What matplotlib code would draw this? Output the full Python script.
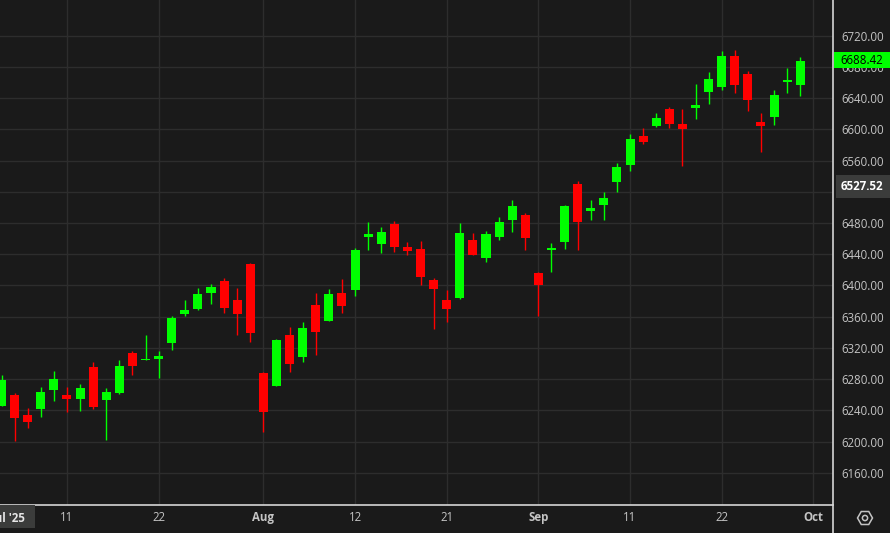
import numpy as np
import matplotlib
matplotlib.use("Agg")
import matplotlib.pyplot as plt
from matplotlib.patches import Rectangle, RegularPolygon, Circle
from matplotlib.transforms import IdentityTransform

# daily candles, 3 Jul 2025 -> 30 Sep 2025 (trading days only)
dates = ["07-03", "07-07", "07-08", "07-09", "07-10", "07-11", "07-14", "07-15", "07-16", "07-17",
         "07-18", "07-21", "07-22", "07-23", "07-24", "07-25", "07-28", "07-29", "07-30", "07-31",
         "08-01", "08-04", "08-05", "08-06", "08-07", "08-08", "08-11", "08-12", "08-13", "08-14",
         "08-15", "08-18", "08-19", "08-20", "08-21", "08-22", "08-25", "08-26", "08-27", "08-28",
         "08-29", "09-02", "09-03", "09-04", "09-05", "09-08", "09-09", "09-10", "09-11", "09-12",
         "09-15", "09-16", "09-17", "09-18", "09-19", "09-22", "09-23", "09-24", "09-25", "09-26",
         "09-29", "09-30"]
opens = [6246.0, 6259.6, 6234.4, 6241.7, 6266.0, 6254.5, 6254.5, 6295.5, 6253.2, 6262.2,
         6313.5, 6304.5, 6305.8, 6326.7, 6369.0, 6369.9, 6398.1, 6405.8, 6381.4, 6427.6,
         6287.8, 6271.5, 6336.5, 6308.3, 6375.0, 6354.5, 6390.4, 6394.2, 6462.2, 6453.2,
         6478.8, 6444.5, 6446.8, 6407.1, 6381.4, 6384.0, 6458.3, 6435.3, 6462.2, 6484.0,
         6490.4, 6400.6, 6445.5, 6455.8, 6530.1, 6499.0, 6503.2, 6551.9, 6554.5, 6591.7,
         6604.5, 6626.3, 6607.0, 6627.6, 6648.1, 6654.5, 6694.2, 6671.2, 6609.6, 6616.0,
         6662.5, 6657.1]
highs = [6285.3, 6262.2, 6243.3, 6269.9, 6290.4, 6269.9, 6273.7, 6301.9, 6268.6, 6304.5,
         6316.0, 6336.5, 6316.0, 6361.0, 6381.4, 6396.8, 6402.0, 6409.6, 6396.8, 6428.5,
         6288.5, 6331.5, 6346.8, 6353.2, 6390.4, 6395.5, 6408.3, 6448.0, 6481.4, 6475.0,
         6482.7, 6455.8, 6457.0, 6409.6, 6394.2, 6480.1, 6467.3, 6469.9, 6487.8, 6509.6,
         6493.0, 6417.0, 6454.5, 6503.5, 6534.0, 6509.6, 6520.0, 6557.0, 6594.2, 6601.9,
         6621.2, 6628.8, 6626.3, 6658.3, 6673.7, 6700.6, 6701.9, 6675.0, 6621.2, 6650.6,
         6678.8, 6692.9]
lows = [6245.0, 6201.0, 6217.7, 6231.8, 6251.9, 6238.2, 6239.1, 6241.7, 6201.9, 6261.0,
        6285.3, 6304.0, 6281.8, 6317.7, 6361.3, 6368.6, 6376.3, 6364.7, 6336.5, 6327.6,
        6212.2, 6271.0, 6289.1, 6301.9, 6310.9, 6354.0, 6364.7, 6386.5, 6445.5, 6441.7,
        6443.0, 6439.1, 6400.6, 6344.2, 6353.2, 6383.0, 6439.0, 6430.2, 6458.3, 6468.6,
        6445.5, 6360.9, 6417.3, 6446.8, 6445.5, 6484.0, 6484.0, 6520.0, 6546.8, 6581.4,
        6603.2, 6601.9, 6553.2, 6613.5, 6632.7, 6650.6, 6646.8, 6623.7, 6571.2, 6605.8,
        6646.8, 6643.0]
closes = [6279.35, 6229.98, 6225.52, 6263.26, 6280.46, 6259.75, 6268.56, 6243.76, 6263.70, 6297.36,
          6296.79, 6305.60, 6309.62, 6358.91, 6363.35, 6388.64, 6389.77, 6370.86, 6362.90, 6339.39,
          6238.01, 6329.94, 6299.19, 6345.06, 6340.00, 6389.45, 6373.45, 6445.76, 6466.58, 6468.54,
          6449.80, 6449.15, 6411.37, 6395.78, 6370.17, 6466.91, 6439.32, 6465.94, 6481.40, 6501.86,
          6460.26, 6415.54, 6448.26, 6502.08, 6481.50, 6495.15, 6512.61, 6532.04, 6587.47, 6584.29,
          6615.28, 6606.76, 6600.35, 6631.96, 6664.36, 6693.75, 6656.92, 6637.97, 6604.72, 6643.70,
          6661.21, 6688.42]
prev_close = 6227.42  # close before the first visible candle

tick_pos = [5, 12, 20, 27, 34, 41, 48, 55, 62]
tick_labels = ["11", "22", "Aug", "12", "21", "Sep", "11", "22", "Oct"]
month_labels = ["Aug", "Sep", "Oct"]
price_ticks = list(range(6160, 6721, 40))
hidden_ticks = [6520]  # sits under the marker tag
last_price = 6688.42
marker_price = 6527.52

BG = "#1a1a1a"
GRID = "#2d2d2d"
AXLINE = "#d6d6d6"
TXT = "#c4c4c4"
UP = "#00ff00"
DOWN = "#ff0000"

W, H = 890, 533
plt.rcParams["font.family"] = ["Open Sans", "DejaVu Sans"]

fig = plt.figure(figsize=(W / 100, H / 100), dpi=100, facecolor=BG)
ax = fig.add_axes([0, 28 / H, 833 / W, 505 / H], facecolor=BG)

x = np.arange(len(closes))
o = np.array(opens)
c = np.array(closes)
prev = np.concatenate([[prev_close], c[:-1]])
colors = [UP if c[i] >= prev[i] else DOWN for i in range(len(c))]

ax.vlines(x, lows, highs, colors=colors, linewidth=1.0, zorder=3)
body_h = np.maximum(np.abs(c - o), 1.6)
ax.bar(x, body_h, bottom=np.minimum(o, c), width=0.69, color=colors,
       linewidth=0, zorder=4)

ax.set_xlim(-0.115, 63.5)
ax.set_ylim(6118.6, 6766)

ax.set_yticks(price_ticks)
ax.set_yticklabels(["" if p in hidden_ticks else f"{p:.2f}" for p in price_ticks])
ax.yaxis.tick_right()
ax.set_xticks(tick_pos)
ax.set_xticklabels(tick_labels)
for lab in ax.get_xticklabels():
    if lab.get_text() in month_labels:
        lab.set_fontweight("bold")
ax.tick_params(axis="both", length=0, colors=TXT, labelsize=8.3)
ax.tick_params(axis="y", pad=5.8)
ax.tick_params(axis="x", pad=4.5)
ax.grid(True, color=GRID, linewidth=1.0)
ax.set_axisbelow(True)

for s in ["left", "top", "right"]:
    ax.spines[s].set_visible(False)
ax.spines["bottom"].set_color(AXLINE)
ax.spines["bottom"].set_linewidth(1.2)

# right-hand price scale border, full height
fig.add_artist(plt.Line2D([833 / W, 833 / W], [0, 1], color=AXLINE, lw=1.2))

# last price tag and marker tag on the price scale
fig.canvas.draw()
def price_to_px(p):
    return ax.transData.transform((0, p))[1]

yl = price_to_px(last_price)
fig.add_artist(Rectangle((834, yl - 7.5), 60, 16, transform=IdentityTransform(),
                         facecolor=UP, edgecolor="none", zorder=5))
fig.text(840.5 / W, yl / H, f"{last_price:.2f}", color="black", fontsize=8.3,
         va="center", ha="left", zorder=6)

ym = price_to_px(marker_price)
fig.add_artist(Rectangle((835.5, ym - 11.5), 60, 22.5, transform=IdentityTransform(),
                         facecolor="#3b3c3b", edgecolor="none", zorder=5))
fig.text(840.5 / W, ym / H, f"{marker_price:.2f}", color="white", fontsize=8.3,
         fontweight="bold", va="center", ha="left", zorder=6)

# month/year tag at the left of the time scale
fig.add_artist(Rectangle((0, H - 528), 35, 23, transform=IdentityTransform(),
                         facecolor="#3b3c3b", edgecolor="none", zorder=5))
fig.text(26 / W, (H - 518) / H, "Jul '25", color="#e6e6e6", fontsize=8.3,
         fontweight="bold", va="center", ha="right", zorder=6)

# settings icon
fig.add_artist(RegularPolygon((865, H - 518), 6, radius=7.5, orientation=np.pi / 6,
                              transform=IdentityTransform(), fill=False,
                              edgecolor=TXT, linewidth=1.1, zorder=5))
fig.add_artist(Circle((865, H - 518), 2.6, transform=IdentityTransform(), fill=False,
                      edgecolor=TXT, linewidth=1.1, zorder=5))

fig.savefig("out.png", dpi=100, facecolor=BG)
